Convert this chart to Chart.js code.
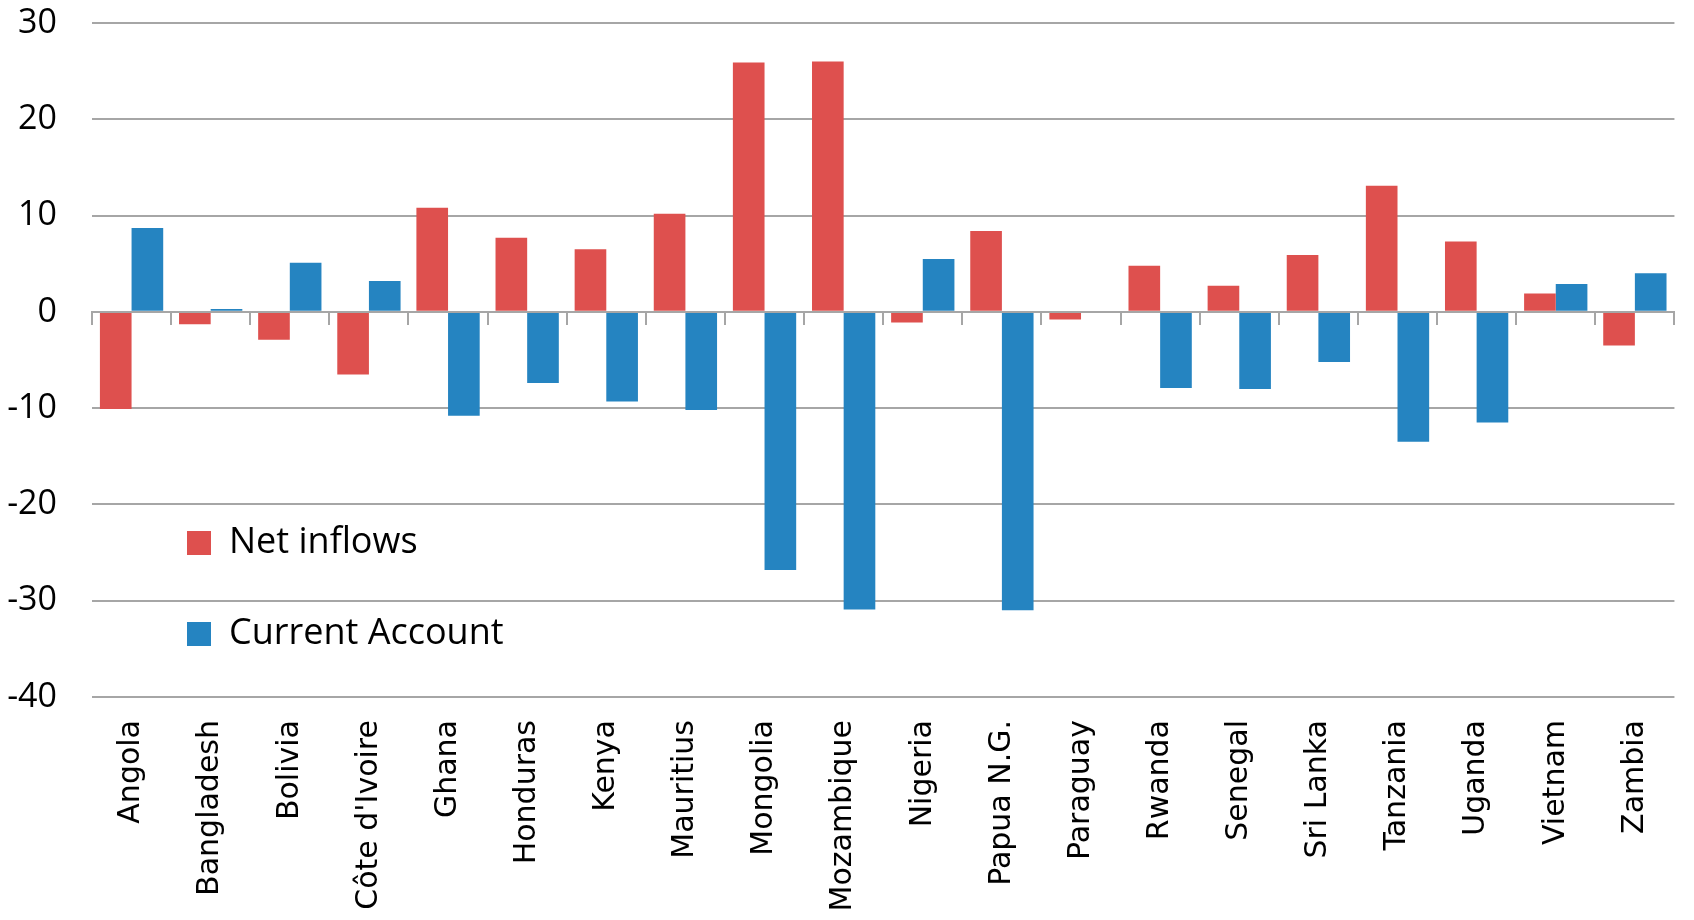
<!DOCTYPE html>
<html>
<head>
<meta charset="utf-8">
<script src="https://cdn.jsdelivr.net/npm/chart.js@4.4.1/dist/chart.umd.min.js"></script>
<style>
html, body { margin: 0; padding: 0; background: #ffffff; }
#wrap { width: 1694px; height: 920px; }
</style>
</head>
<body>
<div id="wrap"><canvas id="c" width="1694" height="920"></canvas></div>
<script>
const categories = ['Angola', 'Bangladesh', 'Bolivia', "Côte d'Ivoire", 'Ghana', 'Honduras', 'Kenya',
  'Mauritius', 'Mongolia', 'Mozambique', 'Nigeria', 'Papua N.G.', 'Paraguay', 'Rwanda', 'Senegal',
  'Sri Lanka', 'Tanzania', 'Uganda', 'Vietnam', 'Zambia'];
const netInflows = [-10.1, -1.3, -2.9, -6.5, 10.8, 7.7, 6.5, 10.2, 25.9, 26.0,
  -1.1, 8.4, -0.8, 4.8, 2.7, 5.9, 13.1, 7.3, 1.9, -3.5];
const currentAccount = [8.7, 0.3, 5.1, 3.2, -10.8, -7.4, -9.3, -10.2, -26.8, -30.9,
  5.5, -31.0, null, -7.9, -8.0, -5.2, -13.5, -11.5, 2.9, 4.0];
const seriesNames = ['Net inflows', 'Current Account'];
const yMin = -40, yMax = 30, yStep = 10;

const RED = '#DE504E';
const BLUE = '#2584C1';
const GRID = '#A6A6A6';

const legendPlacer = {
  id: 'legendPlacer',
  afterLayout(chart) {
    const l = chart.legend;
    if (!l) return;
    l.left = 132; l.right = 700;
    l.top = 470; l.bottom = 860;
    l.width = l.right - l.left; l.height = l.bottom - l.top;
  }
};

new Chart(document.getElementById('c'), {
  type: 'bar',
  data: {
    labels: categories,
    datasets: [
      { label: seriesNames[0], data: netInflows, backgroundColor: RED, borderWidth: 0,
        categoryPercentage: 0.8, barPercentage: 1.0 },
      { label: seriesNames[1], data: currentAccount, backgroundColor: BLUE, borderWidth: 0,
        categoryPercentage: 0.8, barPercentage: 1.0 }
    ]
  },
  options: {
    responsive: false,
    animation: false,
    layout: { padding: { left: 0, right: 5, top: 23, bottom: 0 } },
    plugins: {
      tooltip: { enabled: false },
      legend: {
        position: 'chartArea',
        align: 'start',
        fullSize: false,
        labels: {
          boxWidth: 24, boxHeight: 24, padding: 55, color: '#000',
          font: { family: 'Open Sans', size: 36 }
        }
      }
    },
    scales: {
      x: {
        ticks: { autoSkip: false, maxRotation: 90, minRotation: 90, padding: 23, color: '#000',
          font: { family: 'DejaVu Sans', size: 30 } },
        grid: { display: false, drawTicks: false },
        border: { display: false },
        afterFit(s) { s.height = 223; }
      },
      x2: {
        type: 'category', axis: 'x', position: { y: 0 }, offset: true,
        ticks: { display: false },
        grid: { offset: true, drawOnChartArea: false, drawTicks: true, tickLength: 12,
          color: GRID, lineWidth: 2, z: 1 },
        border: { display: true, color: GRID, width: 2, z: 1 }
      },
      y: {
        min: yMin, max: yMax,
        ticks: { stepSize: yStep, color: '#000', padding: 0,
          font: { family: 'Open Sans', size: 34 } },
        grid: { color: GRID, lineWidth: 2, drawTicks: true, tickLength: 35,
          tickColor: 'rgba(0,0,0,0)' },
        border: { display: false },
        afterFit(s) { s.width = 92; }
      }
    }
  },
  plugins: [legendPlacer]
});
</script>
</body>
</html>
